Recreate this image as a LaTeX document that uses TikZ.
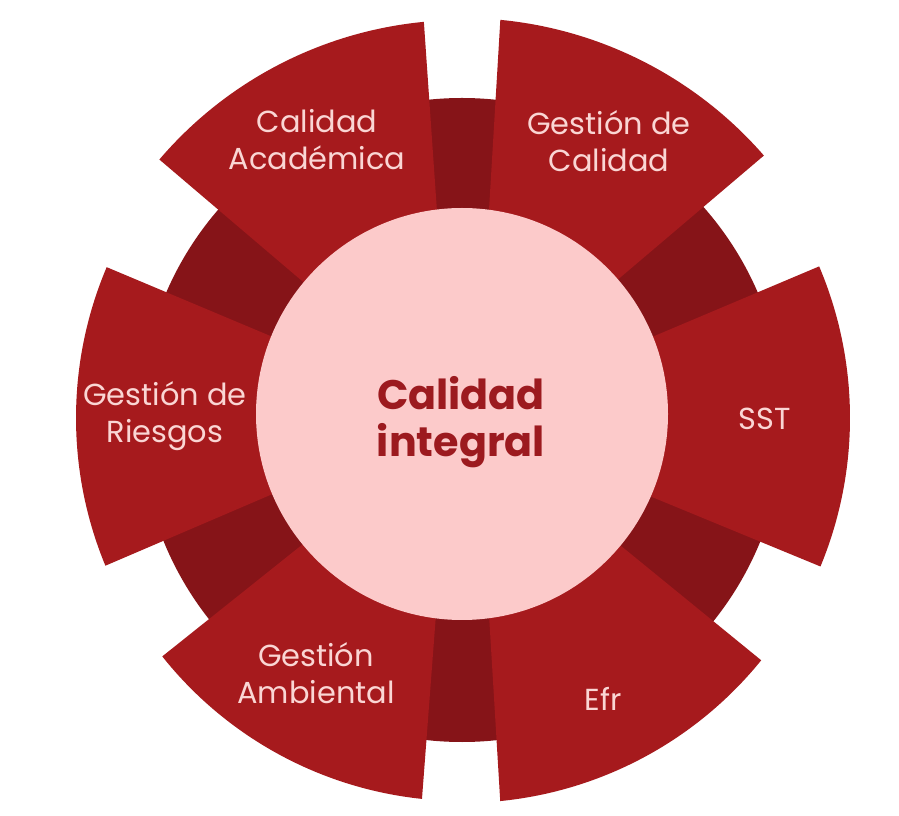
\documentclass[tikz,border=0pt]{standalone}
\usepackage{fontspec}
\setmainfont{Poppins}
\usepackage{xcolor}
\usetikzlibrary{positioning,calc}
\definecolor{segred}{HTML}{A61A1D}
\definecolor{ringred}{HTML}{861418}
\definecolor{corepink}{HTML}{FCCACA}
\definecolor{labpink}{HTML}{FAD6D4}
\definecolor{corered}{HTML}{9C1A1F}

\begin{document}
\begin{tikzpicture}[x=0.02cm,y=0.02cm,
  seg/.style={fill=segred},
  lab/.style={align=center,text=labpink,inner sep=0pt,
              font=\fontsize{17.3}{21}\selectfont},
  core/.style={align=center,text=corered,inner sep=0pt,
               font=\fontsize{23.5}{27}\selectfont\bfseries}
]
  \path[use as bounding box,fill=white] (0,0) rectangle (899,815);

  % dark ring behind the segments
  \fill[ringred] (462,395) circle[radius=322];

  \begin{scope}[shift={(462,397)}]
    \fill[seg] (23:388) arc[start angle=23,end angle=-22.5,radius=388]
      -- (-22.6:195) -- (23.1:195) -- cycle;
    \fill[seg] (84.5:400) arc[start angle=84.5,end angle=41,radius=400]
      -- (41.7:195) -- (82.3:195) -- cycle;
    \fill[seg] (95.5:398) arc[start angle=95.5,end angle=139.5,radius=398]
      -- (139.4:195) -- (97.1:195) -- cycle;
    \fill[seg] (157:386) arc[start angle=157,end angle=202.5,radius=386]
      -- (201.8:195) -- (156.8:195) -- cycle;
    \fill[seg] (218.5:383) arc[start angle=218.5,end angle=264,radius=383]
      -- (262.4:195) -- (218.4:195) -- cycle;
    \fill[seg] (275.7:385) arc[start angle=275.7,end angle=321,radius=385]
      -- (321.2:195) -- (277.9:195) -- cycle;
  \end{scope}

  \fill[corepink] (462,401) circle[radius=206];

  \node[core] (core) at (461,393) {Calidad\\integral};

  \node[lab] (acad) at (317,675) {Calidad\\Académica};
  \node[lab] (gcal) at (609,674) {Gestión de\\Calidad};
  \node[lab] (sst)  at (765,396) {SST};
  \node[lab] (efr)  at (603,116) {Efr};
  \node[lab] (amb)  at (316,142) {Gestión\\Ambiental};
  \node[lab] (ries) at (165,399) {Gestión de\\Riesgos};
\end{tikzpicture}
\end{document}
